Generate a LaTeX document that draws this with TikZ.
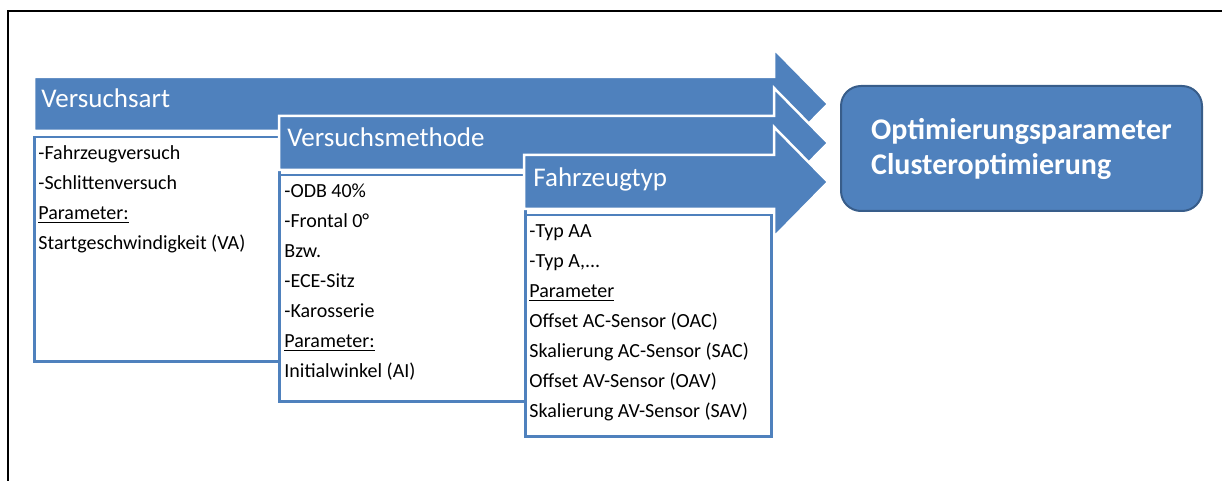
\documentclass[tikz,border=0pt]{standalone}
\usepackage{fontspec}
\setmainfont{Carlito}

\definecolor{officeblue}{HTML}{4F81BD}
\definecolor{officeblueline}{HTML}{385D8A}

% one wide arrow per stage: #1 = left end, #2 = centre line
\newcommand{\stagearrow}[2]{%
  \draw[band] (#1,#2-27) -- (774,#2-27) -- (774,#2-55) -- (828,#2)
    -- (774,#2+55) -- (774,#2+27) -- (#1,#2+27) -- cycle;
}

\tikzset{
  band/.style={fill=officeblue, draw=white, line width=1.25pt, line join=miter},
  bandtitle/.style={anchor=base west, inner sep=0pt, text=white,
    font=\fontsize{13.5}{16}\selectfont},
  listbox/.style={draw=officeblue, fill=white, line width=1.25pt,
    anchor=north west, inner sep=0pt},
  listtext/.style={anchor=north west, inner sep=0pt, align=left,
    font=\fontsize{10}{15}\selectfont},
  goalbox/.style={rectangle, rounded corners=10pt, draw=officeblueline,
    fill=officeblue, line width=1pt, text=white, align=left,
    font=\fontsize{15}{17.5}\selectfont\bfseries}
}

\begin{document}
\begin{tikzpicture}[x=0.5pt, y=-0.5pt]

\useasboundingbox (0,0) rectangle (1222,481);

% frame
\draw[line width=1pt] (8,481) -- (8,11) -- (1222,11);

% Versuchsart
\stagearrow{34}{104}
\node[bandtitle] (art-title) at (41,108) {Versuchsart};
\node[listbox, minimum width=122.5pt, minimum height=112pt] (art-box) at (33,136) {};
\node[listtext] (art-list) at ([shift={(5,2)}]art-box.north west) {
    \strut-Fahrzeugversuch\\
    -Schlittenversuch\\
    \underline{Parameter:}\\
    Startgeschwindigkeit (VA)
};

% Versuchsmethode
\stagearrow{279}{143}
\node[bandtitle] (method-title) at (287,147) {Versuchsmethode};
\node[listbox, minimum width=123pt, minimum height=113pt] (method-box) at (278,174) {};
\node[listtext] (method-list) at ([shift={(6,2)}]method-box.north west) {
    \strut-ODB 40\%\\
    -Frontal 0°\\
    Bzw.\\
    -ECE-Sitz\\
    -Karosserie\\
    \underline{Parameter:}\\
    Initialwinkel (AI)
};

% Fahrzeugtyp
\stagearrow{524}{182}
\node[bandtitle] (type-title) at (533,186) {Fahrzeugtyp};
\node[listbox, minimum width=123pt, minimum height=110.5pt] (type-box) at (524,214) {};
\node[listtext] (type-list) at ([shift={(5,2)}]type-box.north west) {
    \strut-Typ AA\\
    -Typ A,...\\
    \underline{Parameter}\\
    Offset AC-Sensor (OAC)\\
    Skalierung AC-Sensor (SAC)\\
    Offset AV-Sensor (OAV)\\
    Skalierung AV-Sensor (SAV)
};

% Ziel
\node[goalbox, minimum width=180.5pt, minimum height=62.5pt] (goal) at (1021.5,148.5) {
    Optimierungsparameter\\
    Clusteroptimierung
};

\end{tikzpicture}
\end{document}
